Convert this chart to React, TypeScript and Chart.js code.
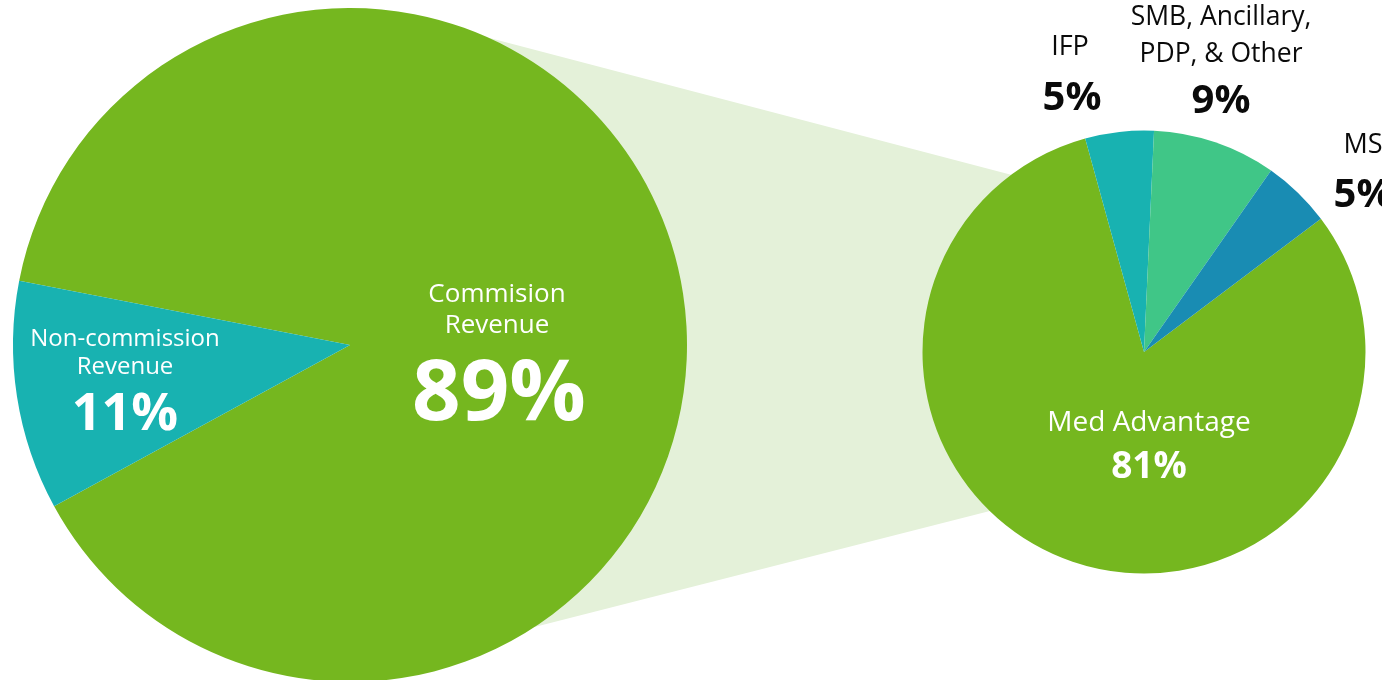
import React, { useEffect, useRef } from "react";
import { Chart, registerables } from "chart.js";

Chart.register(...registerables);

// ---- data ----
const outerCategories = ["Commision Revenue", "Non-commission Revenue"];
const outerValues = [89, 11];
const outerLines = [["Commision", "Revenue"], ["Non-commission", "Revenue"]];

const innerCategories = ["Med Advantage", "IFP", "SMB, Ancillary, PDP, & Other", "MS"];
const innerValues = [81, 5, 9, 5];
const innerLines = [["Med Advantage"], ["IFP"], ["SMB, Ancillary,", "PDP, & Other"], ["MS"]];

// ---- styles ----
const GREEN = "#75B71F";
const outerColors = [GREEN, "#18B2B1"];
const innerColors = [GREEN, "#18B2B1", "#40C687", "#198CB3"];
const BAND = "#E4F1D9";
const FONT = '"Open Sans", "Noto Sans", sans-serif';

type LabelStyle = {
  dx: number; dy: number; lineH: number; size: number;
  pctDx: number; pctDy: number; pctSize: number; color: string;
};

const outerLabelStyles: LabelStyle[] = [
  { dx: 147, dy: -43, lineH: 31, size: 26, pctDx: 149, pctDy: 75, pctSize: 85, color: "#ffffff" },
  { dx: -225, dy: 1, lineH: 28, size: 24, pctDx: -225, pctDy: 85, pctSize: 52, color: "#ffffff" },
];
const innerLabelStyles: LabelStyle[] = [
  { dx: 5, dy: 79, lineH: 0, size: 28, pctDx: 5, pctDy: 126, pctSize: 37, color: "#ffffff" },
  { dx: -74, dy: -297, lineH: 0, size: 27, pctDx: -72, pctDy: -242, pctSize: 40, color: "#0a0a0a" },
  { dx: 77, dy: -327, lineH: 37, size: 26.5, pctDx: 77, pctDy: -239, pctSize: 40, color: "#0a0a0a" },
  { dx: 219, dy: -199, lineH: 0, size: 27, pctDx: 219, pctDy: -145, pctSize: 40, color: "#0a0a0a" },
];

// connector band angles (degrees, canvas orientation) on each pie
const bandBigTop = -65.7;
const bandBigBottom = 56.8;
const bandSmallTop = -126.9;
const bandSmallBottom = 134.1;

const W = 1382;
const H = 680;
const CH = 700;

function labelPlugin(id: string, lines: string[][], values: number[], styles: LabelStyle[]) {
  return {
    id,
    afterDatasetsDraw(chart: any) {
      const meta = chart.getDatasetMeta(0);
      const arc = meta.data[0];
      if (!arc) return;
      const cx = arc.x;
      const cy = arc.y;
      const ctx = chart.ctx;
      ctx.save();
      ctx.textAlign = "center";
      ctx.textBaseline = "alphabetic";
      lines.forEach((ls, i) => {
        const st = styles[i];
        ctx.fillStyle = st.color;
        ctx.font = `400 ${st.size}px ${FONT}`;
        ls.forEach((t, j) => {
          ctx.fillText(t, cx + st.dx, cy + st.dy + j * st.lineH);
        });
        ctx.font = `700 ${st.pctSize}px ${FONT}`;
        ctx.fillText(`${values[i]}%`, cx + st.pctDx, cy + st.pctDy);
      });
      ctx.restore();
    },
  };
}

export default function App() {
  const bigRef = useRef<HTMLCanvasElement | null>(null);
  const smallRef = useRef<HTMLCanvasElement | null>(null);

  useEffect(() => {
    if (!bigRef.current || !smallRef.current) return;

    const big = new Chart(bigRef.current, {
      type: "pie",
      data: {
        labels: outerCategories,
        datasets: [{ data: outerValues, backgroundColor: outerColors, borderWidth: 0 }],
      },
      options: {
        responsive: false,
        maintainAspectRatio: false,
        animation: false,
        devicePixelRatio: 1,
        rotation: 281,
        layout: { padding: { left: 13, top: 8, right: W - 13 - 674, bottom: CH - 8 - 674 } },
        plugins: { legend: { display: false }, tooltip: { enabled: false } },
        events: [],
      },
      plugins: [labelPlugin("outerLabels", outerLines, outerValues, outerLabelStyles)],
    } as any);

    const bandPlugin = {
      id: "band",
      beforeDatasetsDraw(chart: any) {
        const a: any = big.getDatasetMeta(0).data[0];
        const s: any = chart.getDatasetMeta(0).data[0];
        if (!a || !s) return;
        const pt = (cx: number, cy: number, r: number, deg: number) => {
          const t = (deg * Math.PI) / 180;
          return [cx + r * Math.cos(t), cy + r * Math.sin(t)];
        };
        const p1 = pt(a.x, a.y, a.outerRadius, bandBigTop);
        const p2 = pt(s.x, s.y, s.outerRadius, bandSmallTop);
        const p3 = pt(s.x, s.y, s.outerRadius, bandSmallBottom);
        const p4 = pt(a.x, a.y, a.outerRadius, bandBigBottom);
        const ctx = chart.ctx;
        ctx.save();
        ctx.fillStyle = BAND;
        ctx.beginPath();
        ctx.moveTo(p1[0], p1[1]);
        ctx.lineTo(p2[0], p2[1]);
        ctx.lineTo(s.x, s.y);
        ctx.lineTo(p3[0], p3[1]);
        ctx.lineTo(p4[0], p4[1]);
        ctx.lineTo(a.x, a.y);
        ctx.closePath();
        ctx.fill();
        ctx.restore();
      },
    };

    const small = new Chart(smallRef.current, {
      type: "pie",
      data: {
        labels: innerCategories,
        datasets: [{ data: innerValues, backgroundColor: innerColors, borderWidth: 0 }],
      },
      options: {
        responsive: false,
        maintainAspectRatio: false,
        animation: false,
        devicePixelRatio: 1,
        rotation: 53,
        layout: { padding: { left: 922.5, top: 130.5, right: W - 922.5 - 443, bottom: CH - 130.5 - 443 } },
        plugins: { legend: { display: false }, tooltip: { enabled: false } },
        events: [],
      },
      plugins: [bandPlugin, labelPlugin("innerLabels", innerLines, innerValues, innerLabelStyles)],
    } as any);

    return () => {
      small.destroy();
      big.destroy();
    };
  }, []);

  const canvasStyle: React.CSSProperties = {
    position: "absolute",
    left: 0,
    top: 0,
    width: W,
    height: CH,
    display: "block",
  };

  return (
    <div
      style={{
        position: "fixed",
        left: 0,
        top: 0,
        width: W,
        height: H,
        overflow: "hidden",
        background: "#ffffff",
      }}
    >
      <canvas ref={smallRef} width={W} height={CH} style={canvasStyle} />
      <canvas ref={bigRef} width={W} height={CH} style={canvasStyle} />
    </div>
  );
}
